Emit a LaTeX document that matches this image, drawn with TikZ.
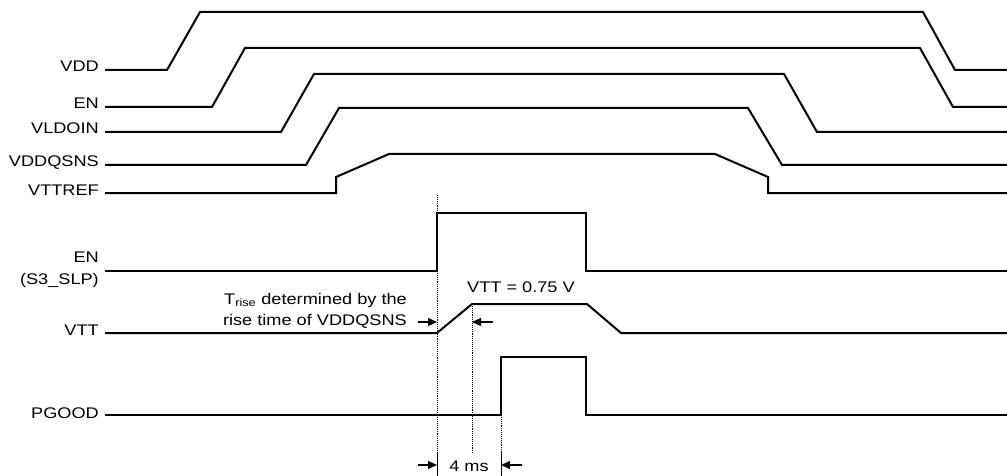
\documentclass[tikz,border=0pt]{standalone}
\usepackage{fontspec}
\setmainfont{Liberation Sans}[FakeStretch=1.18]
\usepackage{tikz}
\usetikzlibrary{arrows.meta, positioning}

\tikzset{
  wave/.style={line width=2pt, line join=miter},
  guide/.style={densely dotted, line width=0.9pt},
  dimarrow/.style={-{Triangle[length=9pt,width=8pt]}, line width=1.3pt},
  siglabel/.style={anchor=base east, inner sep=0pt, font=\fontsize{15.4}{18}\selectfont},
  note/.style={inner sep=0pt, font=\fontsize{15.4}{18}\selectfont}
}

\begin{document}
\begin{tikzpicture}[x=1pt, y=-1pt]
\useasboundingbox (0,0) rectangle (1007,476);

% Signal names
\node[siglabel] (vdd) at (99, 72) {VDD};
\node[siglabel] (en) at (99, 109) {EN};
\node[siglabel] (vldoin) at (99, 134) {VLDOIN};
\node[siglabel] (vddqsns) at (99, 167) {VDDQSNS};
\node[siglabel] (vttref) at (99, 196) {VTTREF};
\node[siglabel] (ens3) at (99, 262) {EN};
\node[siglabel] (ens3b) at (99, 284) {(S3\_SLP)};
\node[siglabel] (vtt) at (99, 335) {VTT};
\node[siglabel] (pgood) at (99, 418) {PGOOD};

% Power rails
\draw[wave] (105,70) -- (167,70) -- (200,12) -- (923,12) -- (955,70) -- (1007,70);
\draw[wave] (105,107) -- (212,107) -- (245,48) -- (920,48) -- (953,107) -- (1007,107);
\draw[wave] (105,132) -- (281,132) -- (314,74) -- (784,74) -- (817,132) -- (1007,132);
\draw[wave] (105,165) -- (306,165) -- (339,108) -- (748,108) -- (782,165) -- (1007,165);
\draw[wave] (105,193) -- (336,193) -- (336,177) -- (389,154) -- (715,154) -- (768,177) -- (768,193) -- (1007,193);

% S3_SLP, VTT and PGOOD
\draw[wave] (105,271) -- (437,271) -- (437,213) -- (586,213) -- (586,271) -- (1007,271);
\draw[wave] (105,333) -- (437,333) -- (472,304) -- (587,304) -- (621,333) -- (1007,333);
\draw[wave] (105,415) -- (501,415) -- (501,357) -- (586,357) -- (586,415) -- (1007,415);

% Timing guides
\draw[guide] (437,195) -- (437,452);
\draw[guide] (472,304) -- (472,453);
\draw[guide] (501,415) -- (501,452);
\draw[line width=0.9pt] (437,452) -- (437,476);
\draw[line width=0.9pt] (501,452) -- (501,476);

% Rise time arrows
\coordinate (trA) at (418,322);
\coordinate (trB) at (437,322);
\coordinate (trC) at (493,322);
\coordinate (trD) at (472,322);
\draw[dimarrow] (trA) -- (trB);
\draw[dimarrow] (trC) -- (trD);
\node[note, anchor=base east] (trise) at (407,304) {T\textsubscript{rise} determined by the};
\node[note, anchor=base east] (trise2) at (407,325) {rise time of VDDQSNS};
\node[note, anchor=base west] (vttval) at (467,292) {VTT = 0.75 V};

% 4 ms delay
\coordinate (dlA) at (418,465);
\coordinate (dlB) at (437,465);
\coordinate (dlC) at (522,465);
\coordinate (dlD) at (501,465);
\draw[dimarrow] (dlA) -- (dlB);
\draw[dimarrow] (dlC) -- (dlD);
\node[note, anchor=base] (delay) at (469,471) {4 ms};

\end{tikzpicture}
\end{document}
